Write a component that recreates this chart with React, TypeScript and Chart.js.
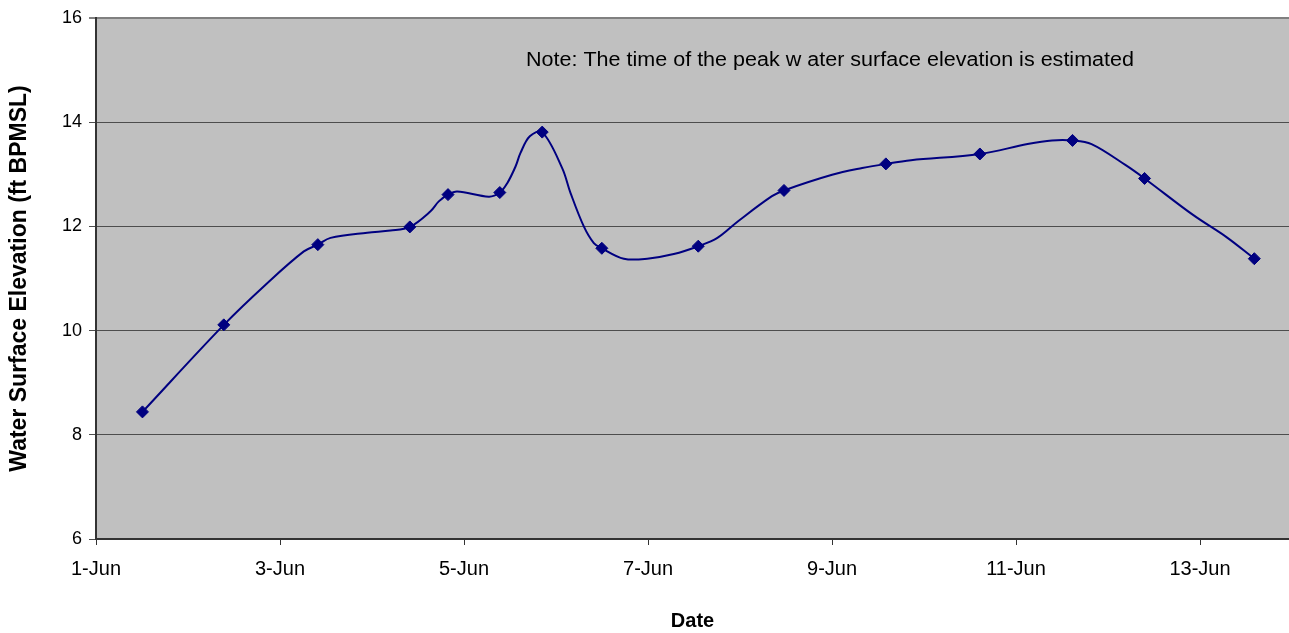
import React, { useEffect, useRef } from "react";
import { Chart, registerables } from "chart.js";

Chart.register(...registerables);

// Observed values (markers): day of June, elevation (ft BPMSL)
const markerDays = [1.505, 2.389, 3.411, 4.411, 4.826, 5.389, 5.85, 6.498, 7.546, 8.478, 9.585, 10.607, 11.614, 12.397, 13.59];
const markerValues = [8.44, 10.11, 11.65, 11.99, 12.61, 12.65, 13.81, 11.58, 11.62, 12.69, 13.2, 13.39, 13.65, 12.92, 11.38];

// Smoothed trace (line)
const lineDays = [1.505, 2.389, 2.861, 3.259, 3.411, 3.549, 3.948, 4.201, 4.411, 4.636, 4.726, 4.826, 4.926, 5.27, 5.389, 5.47, 5.56, 5.614, 5.715, 5.85, 6.067, 6.158, 6.302, 6.411, 6.498, 6.737, 6.991, 7.28, 7.546, 7.754, 7.979, 8.347, 8.478, 9.001, 9.328, 9.585, 9.859, 10.607, 11.125, 11.391, 11.614, 11.821, 12.188, 12.397, 12.924, 13.291, 13.59];
const lineValues = [8.44, 10.11, 10.91, 11.52, 11.65, 11.78, 11.88, 11.92, 11.99, 12.29, 12.48, 12.61, 12.67, 12.57, 12.65, 12.83, 13.15, 13.41, 13.73, 13.81, 13.12, 12.64, 12.0, 11.68, 11.58, 11.38, 11.38, 11.47, 11.62, 11.78, 12.1, 12.58, 12.69, 12.99, 13.12, 13.2, 13.27, 13.39, 13.58, 13.65, 13.65, 13.58, 13.18, 12.92, 12.22, 11.79, 11.38];

const xTickDays = [1, 3, 5, 7, 9, 11, 13];
const yTickValues = [6, 8, 10, 12, 14, 16];

const noteText = "Note: The time of the peak w ater surface elevation is estimated";
const yTitle = "Water Surface Elevation (ft BPMSL)";
const xTitle = "Date";

const FONT = '"Liberation Sans", Arial, sans-serif';

export default function App() {
  const ref = useRef<HTMLCanvasElement | null>(null);

  useEffect(() => {
    if (!ref.current) return;
    const linePts = lineDays.map((d, i) => ({ x: d, y: lineValues[i] }));
    const markerPts = markerDays.map((d, i) => ({ x: d, y: markerValues[i] }));

    const bgPlugin = {
      id: "plotBg",
      beforeDraw(chart: any) {
        const { ctx, chartArea } = chart;
        ctx.save();
        ctx.fillStyle = "#C0C0C0";
        ctx.fillRect(chartArea.left, chartArea.top, chartArea.right - chartArea.left, chartArea.bottom - chartArea.top);
        ctx.restore();
      },
    };
    const notePlugin = {
      id: "note",
      afterDraw(chart: any) {
        const { ctx, chartArea } = chart;
        ctx.save();
        ctx.font = `20px ${FONT}`;
        ctx.fillStyle = "#000";
        ctx.textBaseline = "middle";
        ctx.textAlign = "left";
        const txt = noteText;
        const w = ctx.measureText(txt).width;
        const sx = 608 / w;
        ctx.translate(chartArea.left + 430, chartArea.top + 42);
        ctx.scale(sx, 1);
        ctx.fillText(txt, 0, 0);
        ctx.restore();
      },
    };

    const chart = new Chart(ref.current, {
      type: "line",
      data: {
        datasets: [
          {
            label: "Trace",
            data: linePts,
            borderColor: "#000080",
            borderWidth: 2,
            pointRadius: 0,
            tension: 0.35,
            fill: false,
          },
          {
            label: "Observed",
            data: markerPts,
            showLine: false,
            pointStyle: "rectRot",
            pointRadius: 6,
            backgroundColor: "#000080",
            borderColor: "#000080",
            borderWidth: 1,
          },
        ],
      },
      options: {
        animation: false,
        responsive: false,
        devicePixelRatio: 1,
        layout: { padding: { top: 18, right: 0, left: 0, bottom: 0 } },
        plugins: { legend: { display: false }, tooltip: { enabled: false } },
        scales: {
          x: {
            type: "linear",
            min: 1,
            max: 13.967,
            afterBuildTicks: (s: any) => {
              s.ticks = xTickDays.map((v) => ({ value: v }));
            },
            afterFit: (s: any) => {
              s.height = 94;
              s.paddingLeft = 0;
              s.paddingRight = 0;
            },
            ticks: {
              callback: (v: any) => `${v}-Jun`,
              autoSkip: false,
              maxRotation: 0,
              color: "#000",
              font: { family: FONT, size: 20 },
              padding: 12,
            },
            grid: { drawOnChartArea: false, tickLength: 6, color: "#333" },
            border: { color: "#333", width: 2 },
            title: {
              display: true,
              text: xTitle,
              color: "#000",
              font: { family: FONT, size: 20, weight: "bold" },
              padding: { top: 0, bottom: 0 },
            },
          },
          y: {
            min: 6,
            max: 16,
            afterBuildTicks: (s: any) => {
              s.ticks = yTickValues.map((v) => ({ value: v }));
            },
            afterFit: (s: any) => {
              s.width = 96;
              s.paddingTop = 0;
              s.paddingBottom = 0;
            },
            ticks: {
              color: "#000",
              font: { family: FONT, size: 18 },
              padding: 7,
            },
            grid: {
              tickLength: 7,
              color: (c: any) => (c.tick && c.tick.value === 16 ? "#808080" : "#4d4d4d"),
              lineWidth: (c: any) => (c.tick && c.tick.value === 16 ? 2 : 1),
            },
            border: { color: "#333", width: 2 },
            title: {
              display: true,
              text: yTitle,
              color: "#000",
              font: { family: FONT, size: 23, weight: "bold" },
              padding: { top: 6, bottom: 0 },
            },
          },
        },
      },
      plugins: [bgPlugin, notePlugin],
    } as any);

    return () => chart.destroy();
  }, []);

  return (
    <div style={{ position: "fixed", left: 0, top: 0, width: 1289, height: 633, overflow: "hidden", background: "#fff" }}>
      <canvas ref={ref} width={1296} height={633} style={{ display: "block" }} />
    </div>
  );
}
